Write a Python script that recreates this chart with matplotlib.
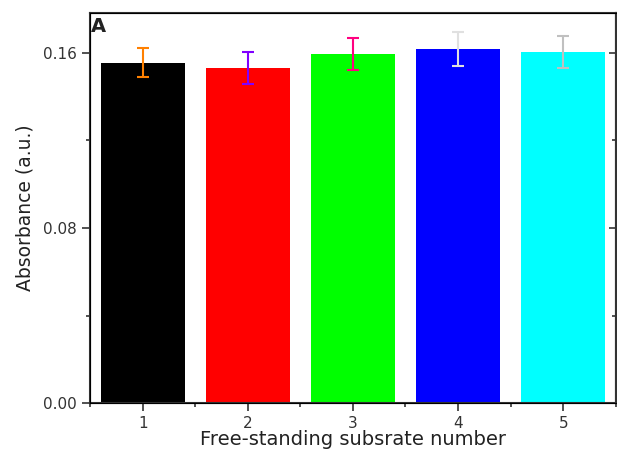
import matplotlib.pyplot as plt
from matplotlib.ticker import MultipleLocator

samples = [1, 2, 3, 4, 5]
absorbance = [0.1554, 0.1531, 0.1593, 0.1618, 0.1605]
errors = [0.0066, 0.0073, 0.0073, 0.0078, 0.0073]
bar_colors = ["#000000", "#FF0000", "#00FF00", "#0000FF", "#00FFFF"]
err_colors = ["#FF8000", "#8000FF", "#FF0080", "#E0E0E0", "#C0C0C0"]

plt.rcParams["font.family"] = ["DejaVu Sans"]

fig = plt.figure(figsize=(6.17, 4.57), dpi=100)
ax = fig.add_axes([0.146, 0.118, 0.852, 0.854])

ax.bar(samples, absorbance, width=0.8, color=bar_colors, edgecolor="none")
for x, y, e, c in zip(samples, absorbance, errors, err_colors):
    ax.errorbar(x, y, yerr=e, fmt="none", ecolor=c, elinewidth=1.5,
                capsize=4, capthick=1.5)

ax.set_xlim(0.5, 5.5)
ax.set_ylim(0, 0.1783)
ax.set_xticks(samples)
ax.xaxis.set_minor_locator(MultipleLocator(0.5))
ax.set_yticks([0.0, 0.08, 0.16])
ax.set_yticklabels(["0.00", "0.08", "0.16"])
ax.yaxis.set_minor_locator(MultipleLocator(0.04))

ax.tick_params(axis="both", which="major", direction="out", length=6,
               width=1.2, labelsize=11, colors="#333333")
ax.tick_params(axis="both", which="minor", direction="out", length=3,
               width=1.2, colors="#333333")
for s in ax.spines.values():
    s.set_linewidth(1.5)
    s.set_color("#333333")

# inward ticks on the right spine
rax = ax.twinx()
rax.set_ylim(ax.get_ylim())
rax.set_yticks([0.0, 0.08, 0.16])
rax.yaxis.set_minor_locator(MultipleLocator(0.04))
rax.tick_params(axis="y", which="major", direction="in", length=5,
                width=1.2, labelright=False, colors="#333333")
rax.tick_params(axis="y", which="minor", direction="in", length=3,
                width=1.2, colors="#333333")
rax.spines["right"].set_linewidth(1.5)
rax.spines["right"].set_color("#333333")

ax.set_ylabel("Absorbance (a.u.)", fontsize=13.5, color="#222222", labelpad=6)
ax.set_xlabel("Free-standing subsrate number", fontsize=14, color="#222222",
              labelpad=-1)
ax.text(0.002, 0.99, "A", transform=ax.transAxes, fontsize=14,
        fontweight="bold", va="top", ha="left", color="#222222")

fig.savefig("out.png", dpi=100)
